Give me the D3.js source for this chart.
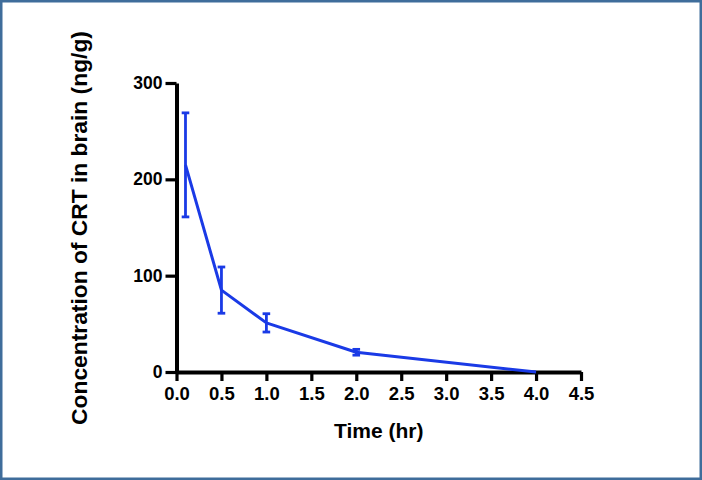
<!DOCTYPE html>
<html>
<head>
<meta charset="utf-8">
<script src="https://cdn.jsdelivr.net/npm/d3@7"></script>
<style>
  body { margin: 0; background: #fff; }
  svg text { font-family: "Liberation Sans", Arial, Helvetica, sans-serif; font-weight: bold; }
</style>
</head>
<body>
<div id="chart"></div>
<script>
// data
const times = [0.1, 0.5, 1.0, 2.0, 4.0];
const conc = [215, 85, 51, 20.5, 0];
const sd = [54, 24, 9.5, 3, 0];
const xTicks = [0, 0.5, 1, 1.5, 2, 2.5, 3, 3.5, 4, 4.5];
const yTicks = [0, 100, 200, 300];

const WIDTH = 702;
const HEIGHT = 480;
const PLOT = { left: 176.5, right: 581, top: 83, bottom: 372 };
const BLUE = "#1a3ae6";

const svg = d3.select("#chart").append("svg")
  .attr("width", WIDTH)
  .attr("height", HEIGHT);

// frame
svg.append("rect")
  .attr("x", 1.25).attr("y", 1.25)
  .attr("width", WIDTH - 2.5).attr("height", HEIGHT - 2.5)
  .attr("fill", "#fff")
  .attr("stroke", "#3f6d9b")
  .attr("stroke-width", 2.5);

const x = d3.scaleLinear().domain([0, 4.5]).range([PLOT.left, PLOT.right]);
const y = d3.scaleLinear().domain([0, 300]).range([PLOT.bottom, PLOT.top]);

// x axis
const xAxis = svg.append("g")
  .attr("transform", `translate(0,${PLOT.bottom})`)
  .call(d3.axisBottom(x).tickValues(xTicks).tickFormat(d3.format(".1f"))
    .tickSize(9).tickSizeOuter(0).tickPadding(6));
xAxis.select(".domain").attr("stroke", "#000").attr("stroke-width", 4);
xAxis.selectAll(".tick line").attr("stroke", "#000").attr("stroke-width", 3.2);
xAxis.selectAll(".tick text").attr("fill", "#000").style("font-size", "18.5px");

// y axis
const yAxis = svg.append("g")
  .attr("transform", `translate(${PLOT.left},0)`)
  .call(d3.axisLeft(y).tickValues(yTicks).tickFormat(d3.format("d"))
    .tickSize(11).tickSizeOuter(0).tickPadding(3));
yAxis.select(".domain").attr("stroke", "#000").attr("stroke-width", 4);
yAxis.selectAll(".tick line").attr("stroke", "#000").attr("stroke-width", 3.2);
yAxis.selectAll(".tick text").attr("fill", "#000").style("font-size", "17.5px");

// titles
svg.append("text")
  .attr("x", (PLOT.left + PLOT.right) / 2)
  .attr("y", 438)
  .attr("text-anchor", "middle")
  .style("font-size", "21px")
  .text("Time (hr)");

svg.append("text")
  .attr("transform", "translate(87,228) rotate(-90)")
  .attr("text-anchor", "middle")
  .style("font-size", "22.8px")
  .text("Concentration of CRT in brain (ng/g)");

const pts = times.map((t, i) => ({ t: t, v: conc[i], e: sd[i] }));

// mean line
svg.append("path")
  .datum(pts)
  .attr("fill", "none")
  .attr("stroke", BLUE)
  .attr("stroke-width", 3)
  .attr("stroke-linejoin", "round")
  .attr("d", d3.line().x(d => x(d.t)).y(d => y(d.v)));

// error bars
const bars = svg.append("g").selectAll("g.err")
  .data(pts.filter(d => d.e > 0))
  .join("g")
  .attr("class", "err")
  .attr("stroke", BLUE)
  .attr("stroke-width", 2.8);

bars.append("line")
  .attr("x1", d => x(d.t)).attr("x2", d => x(d.t))
  .attr("y1", d => y(d.v + d.e)).attr("y2", d => y(d.v - d.e));
bars.append("line")
  .attr("x1", d => x(d.t) - 3.8).attr("x2", d => x(d.t) + 3.8)
  .attr("y1", d => y(d.v + d.e)).attr("y2", d => y(d.v + d.e));
bars.append("line")
  .attr("x1", d => x(d.t) - 3.8).attr("x2", d => x(d.t) + 3.8)
  .attr("y1", d => y(d.v - d.e)).attr("y2", d => y(d.v - d.e));
</script>
</body>
</html>
